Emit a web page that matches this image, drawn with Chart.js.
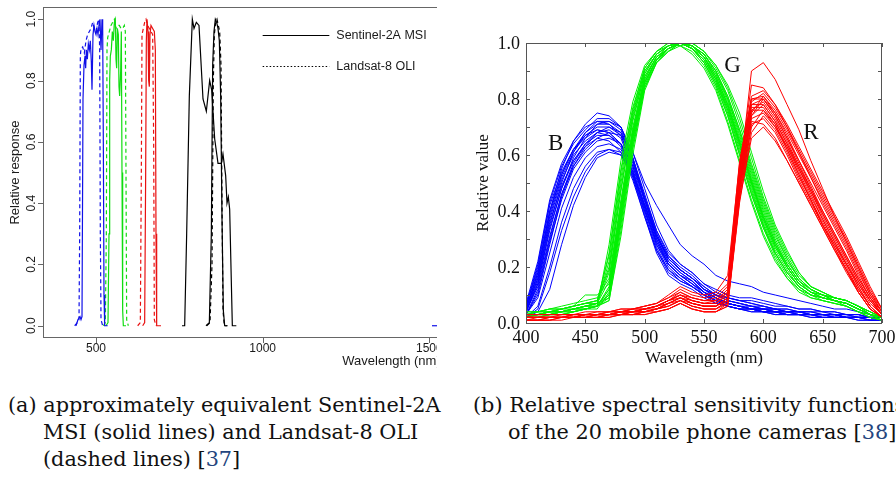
<!DOCTYPE html>
<html>
<head>
<meta charset="utf-8">
<script src="https://cdn.jsdelivr.net/npm/chart.js@4.4.0/dist/chart.umd.min.js"></script>
<style>
html, body { margin: 0; padding: 0; background: #fff; }
body { width: 896px; height: 477px; overflow: hidden; position: relative; }
#leftBox { position: absolute; left: 0; top: 0; width: 437px; height: 380px; overflow: hidden; }
#leftChart { position: absolute; left: 0; top: 0; }
#rightChart { position: absolute; left: 470px; top: 0; }
.cap { position: absolute; font-family: "DejaVu Serif", serif; font-size: 20.8px; line-height: 27px; white-space: nowrap; color: #111; }
.ref { color: #24457e; }
</style>
</head>
<body>
<div id="leftBox"><canvas id="leftChart" width="760" height="380"></canvas></div>
<canvas id="rightChart" width="426" height="380"></canvas>

<div class="cap" style="left:8px; top:392px">(a) approximately equivalent Sentinel-2A</div>
<div class="cap" style="left:43px; top:419px">MSI (solid lines) and Landsat-8 OLI</div>
<div class="cap" style="left:43px; top:446px">(dashed lines) [<span class="ref">37</span>]</div>
<div class="cap" style="left:473px; top:392px">(b) Relative spectral sensitivity functions</div>
<div class="cap" style="left:508px; top:419px">of the 20 mobile phone cameras [<span class="ref">38</span>]</div>

<script>
/*
 * (a) Sentinel-2A MSI / Landsat-8 OLI relative spectral response
 */
const s2BlueNm = [440, 446, 452, 455, 458, 461, 464, 467, 469, 471, 474, 477, 480, 483, 486, 488, 491, 494, 497, 500, 503, 506, 509, 512, 515, 518, 520, 522, 524, 526, 535];
const s2BlueVal = [0, 0.02, 0.03, 0.02, 0.03, 0.74, 0.85, 0.88, 0.84, 0.90, 0.87, 0.92, 0.90, 0.93, 0.86, 0.77, 0.95, 0.98, 0.96, 0.95, 0.97, 0.95, 0.98, 1.0, 0.90, 1.0, 0.98, 0.6, 0.1, 0, 0];
const l8BlueNm = [436, 444, 449, 451, 453, 455, 460, 465, 470, 475, 480, 485, 490, 495, 500, 505, 509, 511, 513, 515, 520];
const l8BlueVal = [0, 0.01, 0.02, 0.3, 0.88, 0.905, 0.91, 0.89, 0.93, 0.95, 0.96, 0.97, 0.99, 0.97, 0.96, 0.99, 1.0, 0.9, 0.3, 0.02, 0];

const s2GreenNm = [530, 536, 539, 541, 543, 546, 549, 552, 555, 558, 560, 562, 564, 567, 569, 571, 574, 576, 578, 580, 582, 590];
const s2GreenVal = [0, 0.01, 0.3, 0.8, 0.88, 0.9, 0.96, 0.93, 0.99, 1.0, 0.87, 0.84, 0.97, 0.95, 0.78, 0.75, 0.83, 0.96, 0.5, 0.05, 0, 0];
const l8GreenNm = [522, 528, 531, 533, 535, 540, 545, 550, 555, 560, 565, 570, 575, 580, 585, 588, 590, 592, 597];
const l8GreenVal = [0, 0.01, 0.3, 0.9, 0.94, 0.96, 0.98, 0.99, 1.0, 0.97, 0.98, 0.98, 0.97, 0.97, 0.98, 0.96, 0.5, 0.02, 0];

const s2RedNm = [640, 646, 649, 651, 653, 656, 658, 660, 662, 665, 670, 675, 678, 680, 682, 695];
const s2RedVal = [0, 0.01, 0.5, 0.93, 1.0, 0.96, 0.8, 0.78, 0.95, 0.98, 0.97, 0.96, 0.9, 0.3, 0, 0];
const l8RedNm = [625, 633, 636, 638, 642, 646, 650, 655, 660, 665, 670, 673, 675, 680];
const l8RedVal = [0, 0.01, 0.5, 0.95, 0.97, 0.99, 1.0, 0.98, 0.97, 0.96, 0.95, 0.6, 0.02, 0];

const s2NirNm = [758, 766, 772, 780, 789, 794, 801, 809, 821, 831, 841, 847, 856, 866, 876, 881, 889, 893, 897, 901, 909, 921];
const s2NirVal = [0, 0, 0.3, 0.75, 1.0, 0.97, 0.99, 0.98, 0.74, 0.70, 0.80, 0.77, 0.61, 0.53, 0.53, 0.56, 0.49, 0.40, 0.42, 0.38, 0, 0];
const s2NarrowNm = [830, 840, 846, 850, 854, 858, 862, 866, 870, 874, 878, 882, 886, 895];
const s2NarrowVal = [0, 0.01, 0.3, 0.85, 0.96, 1.0, 0.99, 0.97, 0.93, 0.75, 0.35, 0.05, 0, 0];
const l8NirNm = [832, 842, 848, 852, 855, 859, 863, 867, 871, 875, 878, 881, 885, 893];
const l8NirVal = [0, 0.01, 0.2, 0.8, 0.95, 0.99, 1.0, 0.98, 0.96, 0.85, 0.4, 0.05, 0, 0];

const s2SwirNm = [1508, 1530];
const s2SwirVal = [0, 0];

const leftXTicks = [500, 1000, 1500, 2000];
const leftYTicks = [0, 0.2, 0.4, 0.6, 0.8, 1.0];
const leftLegend = ['Sentinel-2A MSI', 'Landsat-8 OLI'];

/*
 * (b) 20 mobile phone cameras, 400-700 nm every 10 nm
 */
const camWl = [400, 410, 420, 430, 440, 450, 460, 470, 480, 490, 500, 510, 520, 530, 540, 550, 560, 570, 580, 590, 600, 610, 620, 630, 640, 650, 660, 670, 680, 690, 700];

const camBlue = [
    [.05,.18,.40,.55,.65,.71,.75,.74,.70,.59,.44,.31,.22,.18,.15,.11,.08,.07,.06,.05,.04,.04,.03,.03,.03,.03,.02,.02,.02,.02,.01],
    [.04,.15,.35,.50,.61,.68,.72,.72,.69,.58,.43,.30,.21,.17,.14,.10,.08,.06,.05,.05,.04,.04,.03,.03,.03,.02,.02,.02,.02,.01,.01],
    [.03,.10,.28,.45,.56,.63,.68,.70,.68,.59,.46,.33,.24,.19,.16,.12,.09,.07,.06,.05,.05,.04,.04,.03,.03,.03,.03,.02,.02,.02,.01],
    [.06,.20,.42,.54,.62,.66,.69,.68,.64,.53,.39,.26,.18,.15,.13,.10,.08,.07,.06,.05,.05,.04,.04,.04,.03,.03,.03,.02,.02,.02,.01],
    [.02,.06,.20,.36,.48,.56,.61,.62,.60,.52,.40,.29,.21,.17,.14,.11,.08,.07,.06,.05,.04,.04,.03,.03,.03,.02,.02,.02,.02,.01,.01],
    [.04,.14,.33,.48,.58,.64,.67,.67,.64,.54,.41,.28,.20,.16,.13,.10,.07,.06,.05,.04,.04,.03,.03,.03,.02,.02,.02,.02,.01,.01,.01],
    [.05,.17,.38,.52,.61,.67,.70,.70,.67,.57,.44,.31,.23,.19,.16,.12,.10,.08,.07,.06,.06,.05,.05,.04,.04,.04,.03,.03,.03,.02,.02],
    [.03,.12,.30,.46,.57,.64,.68,.69,.66,.55,.41,.28,.21,.17,.15,.11,.09,.07,.06,.05,.05,.04,.04,.03,.03,.03,.02,.02,.02,.02,.01],
    [.04,.16,.36,.49,.58,.63,.66,.65,.61,.51,.38,.26,.19,.16,.13,.10,.08,.06,.05,.05,.04,.04,.03,.03,.03,.02,.02,.02,.02,.01,.01],
    [.07,.22,.44,.57,.65,.70,.72,.71,.67,.56,.42,.29,.21,.17,.14,.11,.09,.07,.06,.06,.05,.05,.04,.04,.04,.03,.03,.03,.02,.02,.02],
    [.03,.09,.25,.41,.52,.59,.63,.64,.62,.54,.42,.30,.22,.18,.15,.11,.09,.07,.06,.05,.05,.04,.04,.03,.03,.03,.03,.02,.02,.02,.01],
    [.04,.13,.31,.46,.56,.62,.66,.68,.67,.61,.50,.42,.35,.28,.24,.21,.17,.15,.14,.13,.11,.10,.09,.08,.07,.06,.05,.05,.04,.03,.02],
    [.05,.16,.37,.51,.60,.65,.68,.67,.63,.52,.38,.25,.17,.14,.12,.09,.07,.06,.05,.04,.04,.03,.03,.03,.02,.02,.02,.02,.01,.01,.01],
    [.02,.05,.18,.33,.45,.54,.60,.62,.61,.53,.42,.31,.23,.19,.16,.12,.10,.09,.08,.07,.06,.05,.05,.04,.04,.03,.03,.03,.02,.02,.02],
    [.06,.19,.40,.53,.62,.68,.71,.71,.68,.58,.45,.33,.25,.21,.18,.14,.12,.10,.09,.09,.08,.07,.06,.05,.05,.04,.04,.03,.03,.02,.02],
    [.04,.14,.34,.48,.59,.66,.71,.72,.70,.61,.48,.35,.26,.21,.18,.14,.11,.09,.08,.08,.07,.06,.06,.05,.05,.04,.04,.03,.03,.02,.02],
    [.03,.11,.29,.44,.55,.61,.65,.66,.64,.56,.44,.32,.23,.19,.16,.13,.10,.09,.08,.07,.06,.05,.04,.04,.03,.03,.03,.02,.02,.02,.01],
    [.05,.18,.39,.53,.62,.67,.69,.68,.64,.54,.40,.27,.19,.15,.13,.10,.08,.06,.05,.05,.04,.04,.03,.03,.03,.03,.02,.02,.02,.02,.01],
    [.02,.04,.12,.28,.42,.52,.59,.61,.60,.53,.42,.31,.24,.20,.17,.13,.10,.08,.07,.06,.05,.05,.04,.04,.03,.03,.03,.02,.02,.02,.01],
    [.06,.21,.43,.56,.64,.69,.73,.73,.70,.59,.45,.32,.23,.19,.16,.12,.10,.08,.07,.06,.05,.05,.04,.04,.03,.03,.03,.02,.02,.02,.02]
];

const camGreen = [
    [.03,.03,.04,.04,.05,.05,.06,.10,.38,.66,.86,.94,.98,1.0,.99,.95,.88,.78,.65,.51,.38,.28,.20,.14,.11,.09,.08,.07,.05,.03,.02],
    [.02,.02,.03,.03,.04,.05,.06,.08,.33,.62,.84,.93,.97,1.0,.99,.96,.90,.81,.69,.55,.42,.31,.23,.16,.12,.10,.08,.07,.05,.03,.01],
    [.03,.03,.04,.05,.06,.07,.08,.20,.50,.74,.90,.96,.99,1.0,.98,.93,.85,.74,.60,.46,.34,.24,.17,.12,.10,.08,.07,.06,.04,.03,.01],
    [.04,.04,.05,.05,.06,.10,.10,.14,.42,.68,.87,.95,.98,1.0,.99,.95,.87,.76,.62,.48,.35,.25,.18,.13,.10,.09,.08,.07,.05,.03,.02],
    [.02,.03,.03,.04,.04,.05,.06,.09,.35,.63,.84,.93,.98,1.0,1.0,.97,.91,.83,.71,.57,.44,.33,.24,.17,.13,.11,.09,.08,.06,.03,.02],
    [.03,.03,.04,.04,.05,.06,.07,.25,.55,.77,.91,.97,1.0,.99,.97,.92,.84,.72,.58,.44,.32,.23,.16,.12,.09,.08,.07,.06,.04,.02,.01],
    [.03,.03,.04,.04,.05,.06,.06,.12,.40,.67,.86,.94,.98,1.0,.99,.95,.89,.79,.66,.52,.39,.29,.21,.15,.12,.10,.08,.07,.05,.03,.02],
    [.02,.03,.03,.04,.05,.06,.07,.18,.47,.72,.89,.96,.99,1.0,.98,.94,.86,.76,.63,.49,.36,.26,.19,.13,.10,.09,.08,.07,.05,.03,.02],
    [.03,.04,.04,.05,.06,.07,.07,.09,.36,.64,.85,.93,.97,.99,1.0,.97,.92,.84,.73,.59,.45,.34,.25,.18,.13,.11,.09,.08,.06,.04,.02],
    [.03,.03,.04,.04,.05,.06,.07,.22,.52,.75,.90,.96,.99,1.0,.98,.93,.86,.75,.61,.47,.35,.25,.18,.13,.10,.09,.08,.06,.04,.02,.01],
    [.02,.02,.03,.03,.04,.05,.05,.11,.39,.66,.86,.94,.98,1.0,.99,.96,.90,.80,.67,.53,.40,.29,.21,.15,.11,.10,.08,.07,.05,.03,.01],
    [.04,.04,.05,.06,.07,.08,.09,.16,.44,.70,.88,.95,.99,1.0,.98,.94,.87,.77,.64,.50,.37,.27,.20,.14,.11,.10,.09,.08,.06,.04,.02],
    [.03,.03,.03,.04,.05,.05,.06,.13,.41,.68,.87,.95,.98,1.0,.99,.96,.89,.80,.68,.54,.41,.30,.22,.16,.12,.10,.09,.08,.06,.03,.02],
    [.02,.03,.03,.04,.04,.05,.06,.28,.58,.79,.92,.97,1.0,.99,.96,.91,.83,.71,.57,.43,.31,.22,.16,.11,.09,.08,.07,.06,.04,.02,.01],
    [.03,.03,.04,.05,.05,.06,.07,.10,.37,.65,.85,.94,.98,1.0,.99,.95,.88,.78,.64,.50,.37,.27,.20,.14,.11,.09,.08,.07,.05,.03,.02],
    [.03,.04,.04,.05,.06,.07,.08,.19,.48,.73,.89,.96,.99,1.0,.98,.94,.87,.77,.64,.50,.38,.28,.21,.15,.12,.10,.09,.08,.06,.03,.02],
    [.02,.02,.03,.03,.04,.05,.06,.08,.31,.60,.83,.93,.97,1.0,1.0,.97,.92,.85,.75,.61,.47,.35,.26,.18,.13,.11,.09,.08,.06,.04,.02],
    [.03,.03,.04,.04,.05,.06,.07,.15,.43,.69,.88,.95,.98,1.0,.98,.95,.88,.78,.65,.51,.38,.28,.20,.14,.11,.09,.08,.07,.05,.03,.02],
    [.03,.04,.05,.05,.06,.07,.08,.24,.54,.76,.91,.97,.99,1.0,.98,.93,.85,.74,.60,.46,.34,.25,.18,.13,.10,.09,.08,.07,.05,.03,.02],
    [.02,.03,.03,.04,.05,.06,.06,.12,.40,.67,.86,.94,.98,1.0,.99,.96,.90,.81,.69,.56,.43,.32,.23,.16,.12,.10,.09,.08,.06,.04,.02]
];

const camRed = [
    [.02,.02,.02,.02,.02,.02,.03,.03,.03,.04,.04,.05,.07,.09,.07,.06,.06,.09,.52,.90,.93,.87,.78,.69,.58,.48,.38,.29,.20,.11,.04],
    [.02,.02,.02,.02,.03,.03,.03,.04,.04,.05,.05,.06,.08,.10,.08,.07,.07,.10,.55,.85,.84,.78,.70,.61,.52,.43,.35,.27,.18,.10,.04],
    [.01,.01,.01,.02,.02,.02,.02,.03,.03,.03,.04,.05,.06,.08,.06,.05,.05,.07,.48,.74,.80,.74,.66,.57,.48,.39,.31,.23,.15,.08,.03],
    [.02,.02,.02,.02,.02,.03,.03,.03,.04,.04,.05,.06,.08,.11,.09,.08,.08,.12,.56,.78,.78,.72,.64,.55,.46,.37,.29,.21,.13,.06,.02],
    [.03,.03,.03,.03,.03,.03,.04,.04,.05,.05,.06,.07,.09,.12,.10,.09,.10,.14,.58,.80,.80,.74,.66,.58,.50,.42,.34,.26,.17,.09,.04],
    [.01,.01,.02,.02,.02,.02,.02,.03,.03,.03,.04,.04,.05,.07,.05,.04,.04,.06,.45,.70,.76,.71,.63,.54,.45,.37,.29,.21,.13,.06,.02],
    [.02,.02,.02,.02,.02,.03,.03,.03,.04,.04,.05,.06,.07,.09,.07,.06,.06,.09,.50,.76,.79,.73,.65,.56,.47,.38,.30,.22,.14,.07,.03],
    [.02,.02,.02,.03,.03,.03,.03,.04,.04,.05,.06,.07,.09,.11,.09,.08,.09,.13,.54,.79,.82,.77,.70,.62,.54,.46,.38,.30,.21,.12,.05],
    [.01,.01,.01,.01,.02,.02,.02,.02,.03,.03,.03,.04,.05,.07,.05,.04,.04,.06,.43,.68,.74,.69,.61,.52,.44,.35,.27,.19,.11,.05,.02],
    [.02,.02,.02,.02,.02,.03,.03,.03,.04,.04,.05,.06,.08,.10,.08,.07,.07,.11,.52,.77,.77,.71,.62,.53,.44,.36,.28,.20,.12,.06,.02],
    [.03,.03,.03,.03,.03,.04,.04,.04,.05,.05,.06,.07,.10,.13,.11,.10,.11,.17,.57,.80,.81,.76,.69,.61,.53,.45,.37,.29,.20,.11,.05],
    [.02,.02,.02,.02,.02,.02,.03,.03,.03,.04,.04,.05,.07,.08,.07,.06,.06,.08,.47,.72,.71,.66,.58,.50,.42,.34,.26,.18,.11,.05,.02],
    [.01,.02,.02,.02,.02,.02,.03,.03,.03,.04,.04,.05,.06,.08,.06,.05,.05,.08,.49,.75,.81,.75,.67,.58,.49,.40,.32,.24,.16,.09,.03],
    [.02,.02,.02,.02,.02,.03,.03,.03,.04,.04,.05,.06,.08,.09,.08,.07,.07,.10,.51,.73,.75,.70,.63,.55,.47,.39,.31,.23,.15,.08,.03],
    [.02,.02,.02,.02,.03,.03,.03,.04,.04,.05,.05,.06,.08,.10,.08,.07,.08,.11,.55,.81,.83,.78,.71,.63,.55,.47,.39,.31,.22,.13,.05],
    [.01,.01,.01,.02,.02,.02,.02,.02,.03,.03,.03,.04,.05,.07,.05,.04,.04,.07,.44,.66,.70,.65,.58,.50,.42,.34,.26,.19,.12,.06,.02],
    [.02,.02,.02,.02,.02,.03,.03,.03,.04,.04,.05,.05,.07,.09,.07,.06,.06,.09,.50,.76,.76,.70,.62,.53,.44,.35,.27,.19,.11,.05,.02],
    [.02,.02,.02,.02,.03,.03,.03,.03,.04,.04,.05,.06,.08,.10,.09,.08,.08,.12,.53,.78,.80,.75,.68,.60,.52,.44,.36,.28,.19,.10,.04],
    [.01,.01,.02,.02,.02,.02,.02,.03,.03,.03,.04,.05,.06,.08,.06,.05,.05,.08,.46,.71,.73,.68,.60,.51,.43,.35,.28,.21,.14,.08,.03],
    [.02,.02,.02,.02,.02,.03,.03,.03,.03,.04,.04,.05,.07,.09,.07,.06,.06,.09,.49,.74,.78,.72,.64,.56,.48,.40,.32,.24,.16,.09,.03]
];

const rightXTicks = [400, 450, 500, 550, 600, 650, 700];
const rightYTicks = [0, 0.2, 0.4, 0.6, 0.8, 1.0];
const rightYMinor = [0, 0.1, 0.2, 0.3, 0.4, 0.5, 0.6, 0.7, 0.8, 0.9, 1.0];
const channelNames = ['B', 'G', 'R'];
const channelNm = [425, 574, 640];
const channelVal = [0.618, 0.896, 0.657];

Chart.defaults.animation = false;
Chart.defaults.plugins.legend.display = false;
Chart.defaults.plugins.tooltip.enabled = false;

function toPoints(xs, ys) {
    return xs.map(function (v, i) { return {x: v, y: ys[i]}; });
}

function band(xs, ys, colour, dashed) {
    return {
        data: toPoints(xs, ys),
        borderColor: colour,
        borderWidth: 1.2,
        borderDash: dashed ? [4, 3] : [],
        pointRadius: 0,
        tension: 0
    };
}

const hidden = {ticks: {display: false}, grid: {display: false}, border: {display: false}};

/**
 * R style frame for chart (a)
 */
const leftFrame = {
    id: 'leftFrame',
    afterDraw(chart) {
        const {ctx, chartArea: a, scales: {x, y}} = chart;
        ctx.save();
        ctx.strokeStyle = '#666';
        ctx.lineWidth = 1;
        ctx.strokeRect(a.left + 0.5, a.top + 0.5, a.right - a.left - 1, a.bottom - a.top - 1);

        ctx.fillStyle = '#1a1a1a';
        ctx.font = '12px "Liberation Sans", Arial, sans-serif';
        ctx.beginPath();
        leftYTicks.forEach(function (v) {
            const py = Math.round(y.getPixelForValue(v)) + 0.5;
            ctx.moveTo(a.left, py);
            ctx.lineTo(a.left - 5, py);
        });
        leftXTicks.forEach(function (v) {
            const px = Math.round(x.getPixelForValue(v)) + 0.5;
            ctx.moveTo(px, a.bottom);
            ctx.lineTo(px, a.bottom + 5);
        });
        ctx.stroke();

        leftYTicks.forEach(function (v) {
            ctx.save();
            ctx.translate(a.left - 8, y.getPixelForValue(v));
            ctx.rotate(-Math.PI / 2);
            ctx.textAlign = 'center';
            ctx.textBaseline = 'alphabetic';
            ctx.fillText(v.toFixed(1), 0, 0);
            ctx.restore();
        });
        ctx.textAlign = 'center';
        ctx.textBaseline = 'middle';
        leftXTicks.forEach(function (v) {
            ctx.fillText(String(v), x.getPixelForValue(v), a.bottom + 11);
        });

        ctx.font = '13px "Liberation Sans", Arial, sans-serif';
        ctx.fillText('Wavelength (nm)', (a.left + a.right) / 2, a.bottom + 23);
        ctx.save();
        ctx.translate(15, (a.top + a.bottom) / 2);
        ctx.rotate(-Math.PI / 2);
        ctx.fillText('Relative response', 0, 0);
        ctx.restore();

        // legend
        const lx0 = x.getPixelForValue(1000), lx1 = x.getPixelForValue(1200);
        ctx.font = '12.5px "Liberation Sans", Arial, sans-serif';
        ctx.textAlign = 'left';
        ctx.strokeStyle = '#000';
        [0.948, 0.847].forEach(function (v, i) {
            const py = Math.round(y.getPixelForValue(v)) + 0.5;
            ctx.setLineDash(i === 0 ? [] : [1.5, 2]);
            ctx.beginPath();
            ctx.moveTo(lx0, py);
            ctx.lineTo(lx1, py);
            ctx.stroke();
            ctx.fillText(leftLegend[i], lx1 + 7, py);
        });
        ctx.restore();
    }
};

new Chart(document.getElementById('leftChart'), {
    type: 'line',
    data: {
        datasets: [
            band(l8BlueNm, l8BlueVal, '#1010e8', true),
            band(s2BlueNm, s2BlueVal, '#1010e8', false),
            band(l8GreenNm, l8GreenVal, '#10dd10', true),
            band(s2GreenNm, s2GreenVal, '#10dd10', false),
            band(l8RedNm, l8RedVal, '#e81010', true),
            band(s2RedNm, s2RedVal, '#e81010', false),
            band(l8NirNm, l8NirVal, '#000', true),
            band(s2NarrowNm, s2NarrowVal, '#000', false),
            band(s2NirNm, s2NirVal, '#000', false),
            band(s2SwirNm, s2SwirVal, '#1010e8', false)
        ]
    },
    options: {
        responsive: false,
        devicePixelRatio: 1,
        layout: {padding: {top: 7, right: 20, left: 0, bottom: 0}},
        scales: {
            x: Object.assign({type: 'linear', min: 341, max: 2432,
                afterFit: function (s) { s.height = 42; }}, hidden),
            y: Object.assign({min: -0.04, max: 1.04,
                afterFit: function (s) { s.width = 43; }}, hidden)
        }
    },
    plugins: [leftFrame]
});

/**
 * MATLAB style frame for chart (b)
 */
const rightFrame = {
    id: 'rightFrame',
    afterDraw(chart) {
        const {ctx, chartArea: a, scales: {x, y}} = chart;
        ctx.save();
        ctx.strokeStyle = '#555';
        ctx.lineWidth = 1;
        ctx.beginPath();
        rightXTicks.forEach(function (v) {
            const px = Math.round(x.getPixelForValue(v)) + 0.5;
            ctx.moveTo(px, a.bottom);
            ctx.lineTo(px, a.bottom - 4);
            ctx.moveTo(px, a.top);
            ctx.lineTo(px, a.top + 4);
        });
        rightYMinor.forEach(function (v) {
            const py = Math.round(y.getPixelForValue(v)) + 0.5;
            ctx.moveTo(a.left, py);
            ctx.lineTo(a.left + 4, py);
            ctx.moveTo(a.right, py);
            ctx.lineTo(a.right - 4, py);
        });
        ctx.stroke();
        ctx.strokeRect(a.left + 0.5, a.top + 0.5, a.right - a.left - 1, a.bottom - a.top);

        ctx.fillStyle = '#111';
        ctx.font = '18px "Liberation Serif", serif';
        ctx.textAlign = 'right';
        ctx.textBaseline = 'middle';
        rightYTicks.forEach(function (v) {
            ctx.fillText(v.toFixed(1), a.left - 6, y.getPixelForValue(v) + 1);
        });
        ctx.textAlign = 'center';
        rightXTicks.forEach(function (v) {
            ctx.fillText(String(v), x.getPixelForValue(v), a.bottom + 15);
        });

        ctx.font = '17px "Liberation Serif", serif';
        ctx.fillText('Wavelength (nm)', (a.left + a.right) / 2, a.bottom + 36);
        ctx.save();
        ctx.translate(14, (a.top + a.bottom) / 2);
        ctx.rotate(-Math.PI / 2);
        ctx.fillText('Relative value', 0, 0);
        ctx.restore();

        ctx.font = '23px "Liberation Serif", serif';
        ctx.textBaseline = 'alphabetic';
        channelNames.forEach(function (t, i) {
            ctx.fillText(t, x.getPixelForValue(channelNm[i]), y.getPixelForValue(channelVal[i]));
        });
        ctx.restore();
    }
};

function camSets(curves, colour) {
    return curves.map(function (c) {
        return {
            data: toPoints(camWl, c),
            borderColor: colour,
            borderWidth: 1,
            pointRadius: 0,
            tension: 0
        };
    });
}

new Chart(document.getElementById('rightChart'), {
    type: 'line',
    data: {
        datasets: camSets(camRed, '#ff0000')
            .concat(camSets(camGreen, '#00f000'))
            .concat(camSets(camBlue, '#0000ff'))
    },
    options: {
        responsive: false,
        devicePixelRatio: 1,
        layout: {padding: {top: 43, right: 14, left: 0, bottom: 0}},
        scales: {
            x: Object.assign({type: 'linear', min: 400, max: 700,
                afterFit: function (s) { s.height = 57; }}, hidden),
            y: Object.assign({min: 0, max: 1,
                afterFit: function (s) { s.width = 56; }}, hidden)
        }
    },
    plugins: [rightFrame]
});
</script>
</body>
</html>
